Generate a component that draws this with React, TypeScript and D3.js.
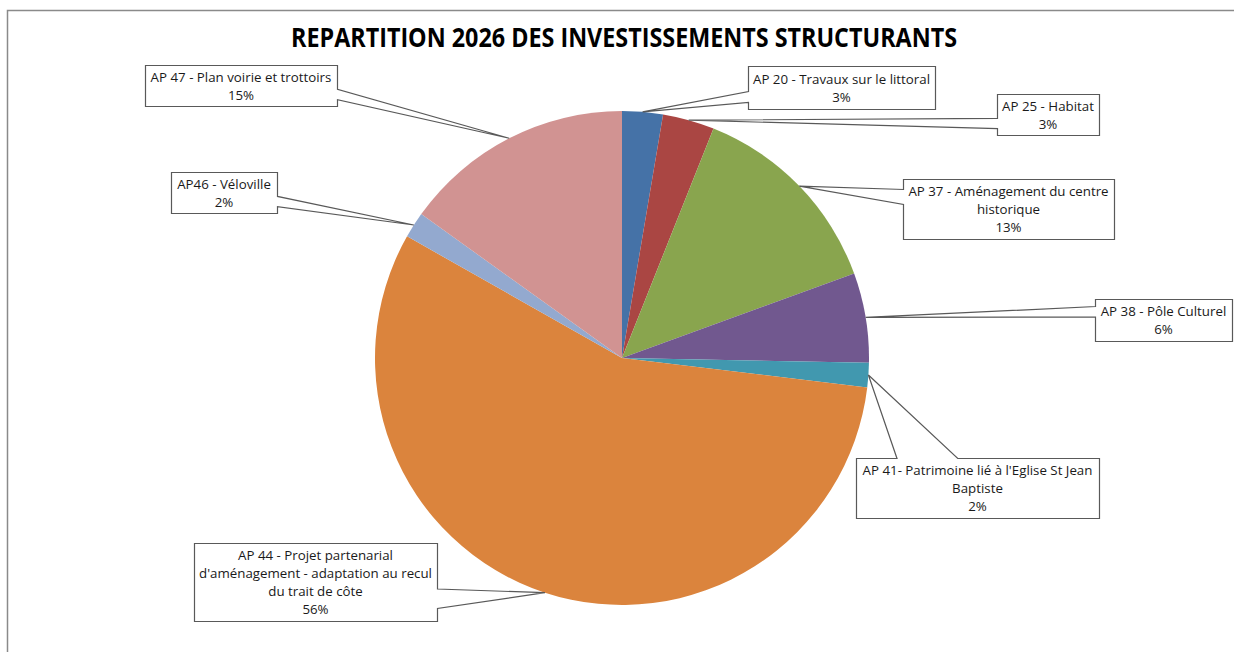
import React from "react";
import * as d3 from "d3";

const title = "REPARTITION 2026 DES INVESTISSEMENTS STRUCTURANTS";
const categories = [
  "AP 20 - Travaux sur le littoral",
  "AP 25 - Habitat",
  "AP 37 - Aménagement du centre historique",
  "AP 38 - Pôle Culturel",
  "AP 41- Patrimoine lié à l'Eglise St Jean Baptiste",
  "AP 44 - Projet partenarial d'aménagement - adaptation au recul du trait de côte",
  "AP46 - Véloville",
  "AP 47 - Plan voirie et trottoirs",
];
const values = [2.66, 3.38, 13.41, 5.85, 1.6, 56.3, 1.7, 15.1];
const labelLines = [
  ["AP 20 - Travaux sur le littoral"],
  ["AP 25 - Habitat"],
  ["AP 37 - Aménagement du centre", "historique"],
  ["AP 38 - Pôle Culturel"],
  ["AP 41- Patrimoine lié à l'Eglise St Jean", "Baptiste"],
  ["AP 44 - Projet partenarial", "d'aménagement - adaptation au recul", "du trait de côte"],
  ["AP46 - Véloville"],
  ["AP 47 - Plan voirie et trottoirs"],
];
const colors = ["#4572A7", "#AA4643", "#89A54E", "#71588F", "#4198AF", "#DB843D", "#93A9CF", "#D19392"];

// label box layout (x0, y0, x1, y1, side of pointer)
const boxes = [
  { x0: 748, y0: 66, x1: 935, y1: 109, side: "left" },
  { x0: 997, y0: 94, x1: 1099, y1: 135, side: "left" },
  { x0: 903, y0: 179, x1: 1114, y1: 239, side: "left" },
  { x0: 1095, y0: 299, x1: 1232, y1: 341, side: "left" },
  { x0: 856, y0: 458, x1: 1099, y1: 518, side: "top" },
  { x0: 194, y0: 543, x1: 437, y1: 621, side: "right" },
  { x0: 171, y0: 172, x1: 277, y1: 213, side: "right" },
  { x0: 145, y0: 65, x1: 337, y1: 106, side: "right" },
];

const W = 1234;
const H = 652;
const cx = 622;
const cy = 358;
const R = 247;

function frac(lo: number, hi: number, a: number): [number, number] {
  const c = (lo + hi) / 2;
  const f = a < c ? [1 / 6, 5 / 12] : [7 / 12, 5 / 6];
  return [lo + f[0] * (hi - lo), lo + f[1] * (hi - lo)];
}

function calloutPath(b: any, ax: number, ay: number): string {
  const x0 = b.x0 + 0.5, y0 = b.y0 + 0.5, x1 = b.x1 + 0.5, y1 = b.y1 + 0.5;
  let pts: number[][] = [];
  if (b.side === "left") {
    const [ya, yb] = frac(y0, y1, ay);
    pts = [[x0, y0], [x1, y0], [x1, y1], [x0, y1], [x0, yb], [ax, ay], [x0, ya]];
  } else if (b.side === "right") {
    const [ya, yb] = frac(y0, y1, ay);
    pts = [[x0, y0], [x1, y0], [x1, ya], [ax, ay], [x1, yb], [x1, y1], [x0, y1]];
  } else if (b.side === "top") {
    const [xa, xb] = frac(x0, x1, ax);
    pts = [[x0, y0], [xa, y0], [ax, ay], [xb, y0], [x1, y0], [x1, y1], [x0, y1]];
  } else {
    const [xa, xb] = frac(x0, x1, ax);
    pts = [[x0, y0], [x1, y0], [x1, y1], [xb, y1], [ax, ay], [xa, y1], [x0, y1]];
  }
  return "M" + pts.map((p) => p.join(",")).join("L") + "Z";
}

export default function App() {
  const total = d3.sum(values);
  const pie = d3.pie<number>().sort(null).value((d) => d);
  const arcs = pie(values);
  const arc = d3.arc<d3.PieArcDatum<number>>().innerRadius(0).outerRadius(R);
  const edge = d3.arc<d3.PieArcDatum<number>>().innerRadius(R).outerRadius(R);
  const lineH = 18;
  const fontFamily = "'Open Sans', 'Noto Sans', sans-serif";

  return (
    <svg
      width={W}
      height={H}
      style={{ position: "absolute", left: 0, top: 0, background: "#fff" }}
    >
      <rect x={0} y={0} width={W} height={H} fill="#fff" />
      <path d={`M7.5,${H + 5}L7.5,10.5L${W + 5},10.5`} fill="none" stroke="#8a8a8a" strokeWidth={1.5} />
      <text
        x={624}
        y={47}
        textAnchor="middle"
        fontFamily={fontFamily}
        fontWeight="bold"
        fontSize={27}
        textLength={666}
        lengthAdjust="spacingAndGlyphs"
        fill="#000"
      >
        {title}
      </text>
      <g transform={`translate(${cx},${cy})`}>
        {arcs.map((a, i) => (
          <path key={categories[i]} d={arc(a) || ""} fill={colors[i]} />
        ))}
      </g>
      {arcs.map((a, i) => {
        const [px, py] = edge.centroid(a);
        const ax = cx + px;
        const ay = cy + py;
        const b = boxes[i];
        const lines = [...labelLines[i], Math.round((values[i] / total) * 100) + "%"];
        const mx = (b.x0 + b.x1) / 2;
        const my = (b.y0 + b.y1) / 2;
        const firstY = my - ((lines.length - 1) * lineH) / 2 + 5;
        return (
          <g key={"lbl" + i}>
            <path d={calloutPath(b, ax, ay)} fill="#fff" stroke="#595959" strokeWidth={1.2} />
            <text
              textAnchor="middle"
              fontFamily={fontFamily}
              fontSize={13.3}
              fill="#1a1a1a"
            >
              {lines.map((l, j) => (
                <tspan key={j} x={mx} y={firstY + j * lineH}>
                  {l}
                </tspan>
              ))}
            </text>
          </g>
        );
      })}
    </svg>
  );
}
